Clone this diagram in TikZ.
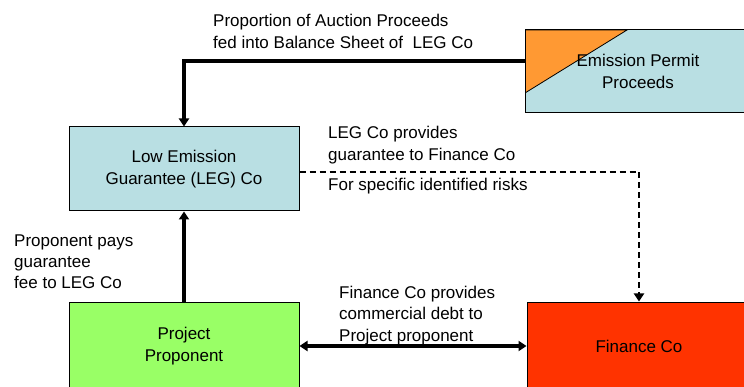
\documentclass[tikz,border=0pt]{standalone}
\usepackage{fontspec}
\setmainfont{Liberation Sans}
\usetikzlibrary{arrows.meta}

\definecolor{permitblue}{RGB}{185,223,227}
\definecolor{permitorange}{RGB}{255,153,51}
\definecolor{proponentgreen}{RGB}{153,255,102}
\definecolor{financered}{RGB}{255,51,0}

\tikzset{
    box/.style={draw=black, line width=1pt, rectangle, align=center, inner sep=0pt},
    label text/.style={anchor=base west, align=left, inner sep=0pt},
    flow/.style={line width=3.2pt, -{Triangle[length=8pt,width=10pt]}},
    guarantee/.style={line width=2.4pt, dash pattern=on 6pt off 4pt, -{Triangle[length=8pt,width=10pt]}}
}

\begin{document}
\begin{tikzpicture}[x=1pt, y=-1pt, font=\fontsize{17}{21.5}\selectfont]

\useasboundingbox (0,0) rectangle (744,387);
\clip (0,0) rectangle (744,387);

\node [box, fill=permitblue, minimum width=226pt, minimum height=83pt,
       path picture={\draw [fill=permitorange, line width=0.8pt]
           (path picture bounding box.north west) -- ++(102pt,0pt)
           -- ([yshift=-63pt]path picture bounding box.north west) -- cycle;}]
    (permit) at (638,71.5) {Emission Permit\\Proceeds};

\node [box, fill=permitblue, minimum width=230pt, minimum height=84pt]
    (leg) at (184,169) {Low Emission\\Guarantee (LEG) Co};

\node [box, fill=proponentgreen, minimum width=230pt, minimum height=88pt]
    (proponent) at (184,346) {Project\\Proponent};

\node [box, fill=financered, minimum width=224pt, minimum height=88pt]
    (finance) at (639,346) {Finance Co};

\coordinate (feed) at (184,61);

\draw [flow] ([yshift=10.5pt]permit.west) -- (feed) -- (leg.north);
\draw [flow] (proponent.north) -- (leg.south);
\draw [guarantee] ([yshift=-3pt]leg.east) -| (finance.north);
\draw [flow, {Triangle[length=8pt,width=10pt]}-{Triangle[length=8pt,width=10pt]}]
    (proponent.east) -- (finance.west);

% base anchor sits on the last line
\node [label text] (feedtext) at (213,48.5) {Proportion of Auction Proceeds\\fed into Balance Sheet of~ LEG Co};
\node [label text] (legtext) at (328,160.5) {LEG Co provides\\guarantee to Finance Co};
\node [label text] (risktext) at (328,191) {For specific identified risks};
\node [label text] (feetext) at (14,289) {Proponent pays\\guarantee\\fee to LEG Co};
\node [label text] (debttext) at (339,341) {Finance Co provides\\commercial debt to\\Project proponent};

\end{tikzpicture}
\end{document}
